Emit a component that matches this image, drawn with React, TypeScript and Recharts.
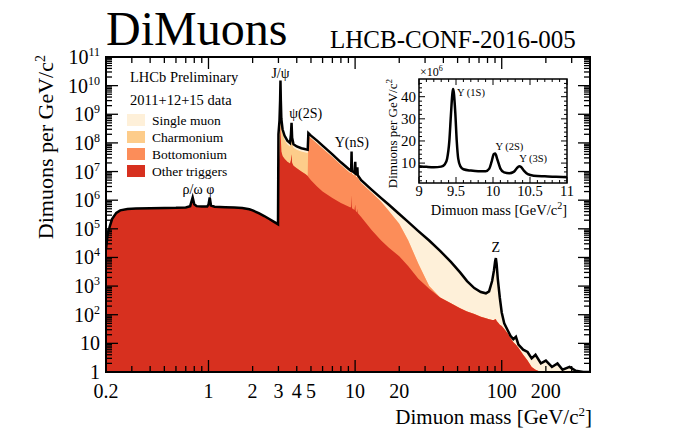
import React from 'react';
import { ComposedChart, LineChart, Area, Line, XAxis, YAxis, ReferenceDot } from 'recharts';

const FONT = '"Liberation Serif", "Times New Roman", "DejaVu Serif", serif';
const COLORS = { single: '#fef0d9', charm: '#fdcc8a', bottom: '#fc8d59', other: '#d7301f' };

// ---------- main spectrum (GeV/c^2, dimuons per GeV/c^2) ----------
const mass = [
  0.2, 0.205, 0.212, 0.22, 0.235, 0.25, 0.28, 0.32, 0.4, 0.5, 0.6, 0.7, 0.75, 0.78, 0.8, 0.83, 0.9, 0.98, 1.0, 1.02, 1.04, 1.1, 1.3, 1.5, 1.7, 1.9, 2.0, 2.2, 2.4, 2.6, 2.8, 2.98,
  3.0, 3.05, 3.08, 3.097, 3.115, 3.14, 3.2, 3.3, 3.45, 3.6, 3.65, 3.686, 3.72, 3.8, 4.0, 4.3, 4.6, 4.75,
  4.8, 5, 5.5, 6, 7, 8, 9, 9.3, 9.4, 9.46, 9.52, 9.9, 10.02, 10.1, 10.3, 10.36, 10.42, 11, 13, 15, 17, 20, 23, 27, 32, 38,
  45, 52, 58, 65, 72, 78, 82, 86, 88.5, 90.2, 91.2, 92.3, 94, 97, 100, 104, 110, 115, 120, 125, 130, 140, 150, 160, 170, 185, 200, 220, 240, 260, 290, 320, 360, 400,
];

// total (upper black curve = top of "Single muon")
const totalYield = [
  2e4, 6e4, 1.2e5, 2.2e5, 3.6e5, 4.4e5, 4.9e5, 5.1e5, 5.2e5, 5.3e5, 5.4e5, 5.6e5, 6.2e5, 1.25e6, 7.2e5, 6.2e5, 6.0e5, 6.0e5, 7e5, 1.25e6, 6.5e5, 5.9e5, 5.7e5, 5.6e5, 5.3e5, 4.8e5, 4.4e5, 3.5e5, 2.8e5, 2.2e5, 1.75e5, 1.45e5,
  2e8, 6e8, 3e9, 1.5e10, 3e9, 7e8, 3e8, 1.8e8, 1.2e8, 1.0e8, 2e8, 5e8, 1.5e8, 9e7, 7.5e7, 6.5e7, 6e7, 5.8e7,
  2.2e8, 1.8e8, 1.2e8, 8e7, 4e7, 2.1e7, 1.25e7, 1.1e7, 1.2e7, 5e7, 1.05e7, 9e6, 2.2e7, 8.4e6, 7.9e6, 1.4e7, 7.5e6, 5e6, 2.3e6, 1.2e6, 6.9e5, 3.3e5, 1.74e5, 8.3e4, 3.9e4, 1.7e4,
  7000, 3000, 1500, 850, 620, 560, 650, 1500, 3500, 7500, 9500, 6000, 1800, 400, 120, 50, 28, 18, 14, 17, 9, 6, 5, 3, 4, 2, 2.5, 1.5, 2, 1.2, 1.5, 1.1, 1, 1,
];

// upper edge of "Charmonium" (null: layer empty here)
const charmoniumTop = [
  null, null, null, null, null, null, null, null, null, null, null, null, null, null, null, null, null, null, null, null, null, null, null, null, null, null, null, null, null, null, null, null,
  1e8, 4e8, 2e9, 8e9, 2e9, 5e8, 2.2e8, 1.3e8, 9e7, 7.5e7, 1.5e8, 3.8e8, 1.1e8, 6.8e7, 5.8e7, 5e7, 4.6e7, 4.4e7,
  null, null, null, null, null, null, null, null, null, null, null, null, null, null, null, null, null, null, null, null, null, null, null, null, null, null,
  null, null, null, null, null, null, null, null, null, null, null, null, null, null, null, null, null, null, null, null, null, null, null, null, null, null, null, null, null, null, null, null, null, null,
];

// upper edge of "Bottomonium" (null: layer empty here)
const bottomoniumTop = [
  null, null, null, null, null, null, null, null, null, null, null, null, null, null, null, null, null, null, null, null, null, null, null, null, null, null, null, null, null, null, null, null,
  null, null, null, null, null, null, null, null, null, null, null, null, null, null, null, null, null, null,
  1.75e8, 1.45e8, 9.5e7, 6.4e7, 3.2e7, 1.7e7, 1e7, 8.8e6, 9.6e6, 4e7, 8.4e6, 7.2e6, 1.75e7, 6.7e6, 6.3e6, 1.1e7, 6e6, 4e6, 1.8e6, 9e5, 4.2e5, 1.5e5, 4e4, 6e3, 1000, null,
  null, null, null, null, null, null, null, null, null, null, null, null, null, null, null, null, null, null, null, null, null, null, null, null, null, null, null, null, null, null, null, null, null, null,
];

// upper edge of "Other triggers" (null: equals the total here)
const otherTriggers = [
  null, null, null, null, null, null, null, null, null, null, null, null, null, null, null, null, null, null, null, null, null, null, null, null, null, null, null, null, null, null, null, null,
  1.2e7, 4e7, 1.5e8, 4e8, 1.5e8, 5e7, 3.5e7, 2.8e7, 2.2e7, 1.9e7, 2.5e7, 4e7, 2e7, 1.6e7, 1.3e7, 1e7, 8e6, 7e6,
  6.5e6, 5e6, 3e6, 2e6, 1.2e6, 8e5, 6e5, 5.5e5, 6e5, 1.5e6, 5.2e5, 4.5e5, 7e5, 4.2e5, 3.8e5, 5e5, 3.6e5, 2.6e5, 9e4, 4e4, 2.2e4, 1.1e4, 5e3, 1.8e3, 800, 400,
  250, 170, 130, 105, 85, 75, 70, 65, 65, 70, 70, 60, 55, 45, 40, 32, 22, 15, 11, 9, 7, 4, 2.5, 1.5, 1.2, 1, 1, 1, 1, 1, 1, 1, 1, 1,
];

const legendLabels = ['Single muon', 'Charmonium', 'Bottomonium', 'Other triggers'];

// resonance annotations
const peakLabels = ['ρ/ω', 'φ', 'J/ψ', 'ψ(2S)', 'Υ(nS)', 'Z'];
const peakMass = [0.78, 1.03, 3.097, 4.6, 9.5, 91];
const peakLabelY = [2.5e6, 2.5e6, 2.8e10, 1.1e9, 1.1e8, 2.4e4];

// axes
const xLabelValues = [0.2, 1, 2, 3, 4, 5, 10, 20, 100, 200];
const xMajorValues = [1, 10, 100];
const xMinorValues = [0.3, 0.4, 0.5, 0.6, 0.7, 0.8, 0.9, 6, 7, 8, 9, 30, 40, 50, 60, 70, 80, 90, 300, 400];
const xTicks = [...xLabelValues, ...xMinorValues].sort((a, b) => a - b);
const yExponents = [0, 1, 2, 3, 4, 5, 6, 7, 8, 9, 10, 11];
const yMinorMultipliers = [2, 3, 4, 5, 6, 7, 8, 9];
const yTicks: number[] = [];
yExponents.forEach((e) => {
  yTicks.push(Math.pow(10, e));
  if (e < 11) yMinorMultipliers.forEach((k) => yTicks.push(k * Math.pow(10, e)));
});

// ---------- inset: Upsilon region (x10^6 dimuons per GeV/c^2) ----------
const insetMass = [9.0, 9.1, 9.2, 9.3, 9.35, 9.38, 9.41, 9.43, 9.45, 9.46, 9.47, 9.49, 9.51, 9.53, 9.56, 9.6, 9.7, 9.8, 9.9, 9.95, 9.98, 10.01, 10.03, 10.06, 10.1, 10.15, 10.22, 10.28, 10.32, 10.355, 10.38, 10.42, 10.47, 10.55, 10.7, 10.85, 11.0];
const insetYield = [8.6, 8.3, 8.1, 8.4, 9.5, 12, 20, 31, 41, 43.5, 42, 33, 20, 12, 8.5, 7.2, 6.6, 6.3, 6.3, 7.5, 10.5, 14, 14.3, 11.5, 7.5, 5.8, 5.4, 6, 7.6, 8.6, 8.2, 6.5, 5.0, 4.3, 4.0, 3.8, 3.6];
const insetLabels = ['Υ (1S)', 'Υ (2S)', 'Υ (3S)'];
const insetLabelMass = [9.5, 10.02, 10.34];
const insetLabelY = [42, 17.8, 12.3];
const insetXLabels = [9, 9.5, 10, 10.5, 11];
const insetXMinor = [9.1, 9.2, 9.3, 9.4, 9.6, 9.7, 9.8, 9.9, 10.1, 10.2, 10.3, 10.4, 10.6, 10.7, 10.8, 10.9];
const insetXTicks = [...insetXLabels, ...insetXMinor].sort((a, b) => a - b);
const insetYLabels = [10, 20, 30, 40];
const insetYMinor = [2, 4, 6, 8, 12, 14, 16, 18, 22, 24, 26, 28, 32, 34, 36, 38, 42, 44, 46];
const insetYTicks = [...insetYLabels, ...insetYMinor].sort((a, b) => a - b);

// layout
const W = 678, H = 430;
const P = { left: 106, top: 57, right: 590, bottom: 372 };
const PW = P.right - P.left, PH = P.bottom - P.top;
const IN = { left: 419, top: 79, right: 567, bottom: 183 };
const INW = IN.right - IN.left, INH = IN.bottom - IN.top;

const rows = mass.map((m, i) => {
  const red = otherTriggers[i] ?? totalYield[i];
  const bott = bottomoniumTop[i] ?? red;
  const charm = charmoniumTop[i] ?? bott;
  return { m, total: totalYield[i], charm, bott, red };
});
const insetRows = insetMass.map((m, i) => ({ m, v: insetYield[i] }));

const XTick = (p: any) => {
  const { x, y, payload } = p;
  const v = payload.value;
  const len = xMajorValues.includes(v) ? 12 : 6;
  const lab = xLabelValues.includes(v);
  return (
    <g>
      <line x1={x} x2={x} y1={y} y2={y - len} stroke="#000" strokeWidth={1.3} />
      <line x1={x} x2={x} y1={y - PH} y2={y - PH + len} stroke="#000" strokeWidth={1.3} />
      {lab && (
        <text x={x} y={y + 26} textAnchor="middle" fontFamily={FONT} fontSize={20} fill="#000">
          {String(v)}
        </text>
      )}
    </g>
  );
};

const YTick = (p: any) => {
  const { x, y, payload } = p;
  const v = payload.value;
  const e = Math.round(Math.log10(v));
  const major = Math.abs(Math.pow(10, e) - v) < 1e-6 * v;
  const len = major ? 12 : 6;
  return (
    <g>
      <line x1={x} x2={x + len} y1={y} y2={y} stroke="#000" strokeWidth={1.3} />
      <line x1={x + PW} x2={x + PW - len} y1={y} y2={y} stroke="#000" strokeWidth={1.3} />
      {major && (
        <text x={x - 6} y={y + 7} textAnchor="end" fontFamily={FONT} fontSize={20} fill="#000">
          {e === 0 ? '1' : '10'}
          {e >= 2 && (
            <tspan dy={-8} fontSize={12}>
              {String(e)}
            </tspan>
          )}
        </text>
      )}
    </g>
  );
};

const InsetXTick = (p: any) => {
  const { x, y, payload } = p;
  const v = payload.value;
  const lab = insetXLabels.includes(v);
  const len = lab ? 6 : 3;
  return (
    <g>
      <line x1={x} x2={x} y1={y} y2={y - len} stroke="#000" strokeWidth={1} />
      <line x1={x} x2={x} y1={y - INH} y2={y - INH + len} stroke="#000" strokeWidth={1} />
      {lab && (
        <text x={x} y={y + 13} textAnchor="middle" fontFamily={FONT} fontSize={14.5} fill="#000">
          {String(v)}
        </text>
      )}
    </g>
  );
};

const InsetYTick = (p: any) => {
  const { x, y, payload } = p;
  const v = payload.value;
  const lab = insetYLabels.includes(v);
  const len = lab ? 6 : 3;
  return (
    <g>
      <line x1={x} x2={x + len} y1={y} y2={y} stroke="#000" strokeWidth={1} />
      <line x1={x + INW} x2={x + INW - len} y1={y} y2={y} stroke="#000" strokeWidth={1} />
      {lab && (
        <text x={x - 3} y={y + 5} textAnchor="end" fontFamily={FONT} fontSize={15} fill="#000">
          {String(v)}
        </text>
      )}
    </g>
  );
};

const legendColors = [COLORS.single, COLORS.charm, COLORS.bottom, COLORS.other];

export default function App() {
  return (
    <div style={{ position: 'absolute', left: 0, top: 0, width: W, height: H, background: '#fff', overflow: 'hidden' }}>
      <div style={{ position: 'absolute', left: 0, top: 0 }}>
        <ComposedChart width={W} height={H} data={rows} margin={{ top: P.top, right: W - P.right, bottom: 0, left: 0 }}>
          <XAxis
            dataKey="m"
            type="number"
            scale="log"
            domain={[0.2, 400]}
            allowDataOverflow
            ticks={xTicks}
            interval={0}
            height={H - P.bottom}
            tickSize={0}
            tickMargin={0}
            axisLine={false}
            tickLine={false}
            tick={(p: any) => <XTick {...p} />}
          />
          <YAxis
            type="number"
            scale="log"
            domain={[1, 1e11]}
            allowDataOverflow
            ticks={yTicks}
            interval={0}
            width={P.left}
            tickSize={0}
            tickMargin={0}
            axisLine={false}
            tickLine={false}
            tick={(p: any) => <YTick {...p} />}
          />
          <Area dataKey="total" type="linear" baseValue={1} fill={COLORS.single} fillOpacity={1} stroke="none" isAnimationActive={false} />
          <Area dataKey="charm" type="linear" baseValue={1} fill={COLORS.charm} fillOpacity={1} stroke="none" isAnimationActive={false} />
          <Area dataKey="bott" type="linear" baseValue={1} fill={COLORS.bottom} fillOpacity={1} stroke="none" isAnimationActive={false} />
          <Area dataKey="red" type="linear" baseValue={1} fill={COLORS.other} fillOpacity={1} stroke="none" isAnimationActive={false} />
          <Line dataKey="total" type="linear" stroke="#000" strokeWidth={2.5} dot={false} isAnimationActive={false} />
          {peakLabels.map((t, i) => (
            <ReferenceDot
              key={t}
              x={peakMass[i]}
              y={peakLabelY[i]}
              r={1}
              fill="none"
              stroke="none"
              isFront
              label={{ value: t, position: 'center', fontSize: 14, fontFamily: FONT, fill: '#000' }}
            />
          ))}
        </ComposedChart>
      </div>

      <div style={{ position: 'absolute', left: 360, top: 60 }}>
        <LineChart width={230} height={170} data={insetRows} margin={{ top: IN.top - 60, right: 590 - IN.right, bottom: 0, left: 0 }}>
          <XAxis
            dataKey="m"
            type="number"
            domain={[9, 11]}
            allowDataOverflow
            ticks={insetXTicks}
            interval={0}
            height={170 - (IN.bottom - 60)}
            tickSize={0}
            tickMargin={0}
            axisLine={false}
            tickLine={false}
            tick={(p: any) => <InsetXTick {...p} />}
          />
          <YAxis
            type="number"
            domain={[1, 48]}
            allowDataOverflow
            ticks={insetYTicks}
            interval={0}
            width={IN.left - 360}
            tickSize={0}
            tickMargin={0}
            axisLine={false}
            tickLine={false}
            tick={(p: any) => <InsetYTick {...p} />}
          />
          <Line dataKey="v" type="monotone" stroke="#000" strokeWidth={2.5} dot={false} isAnimationActive={false} />
          {insetLabels.map((t, i) => (
            <ReferenceDot
              key={t}
              x={insetLabelMass[i]}
              y={insetLabelY[i]}
              r={1}
              fill="none"
              stroke="none"
              isFront
              label={{ value: t, position: 'right', offset: 0, fontSize: 10.5, fontFamily: FONT, fill: '#000' }}
            />
          ))}
        </LineChart>
      </div>

      <svg width={W} height={H} style={{ position: 'absolute', left: 0, top: 0, pointerEvents: 'none' }}>
        <rect x={P.left} y={P.top} width={PW} height={PH} fill="none" stroke="#000" strokeWidth={2} />
        <rect x={IN.left} y={IN.top} width={INW} height={INH} fill="none" stroke="#000" strokeWidth={1.5} />

        <text x={106} y={45} fontFamily={FONT} fontSize={48} fill="#000">DiMuons</text>
        <text x={330} y={48} fontFamily={FONT} fontSize={25} fill="#000">LHCB-CONF-2016-005</text>

        <text transform={`translate(53, ${P.top - 2}) rotate(-90)`} textAnchor="end" fontFamily={FONT} fontSize={22} fill="#000">
          Dimuons per GeV/c<tspan dy={-8} fontSize={14}>2</tspan>
        </text>
        <text x={592} y={424} textAnchor="end" fontFamily={FONT} fontSize={21} fill="#000">
          Dimuon mass [GeV/c<tspan dy={-8} fontSize={13}>2</tspan><tspan dy={8}>]</tspan>
        </text>

        <text x={130} y={82} fontFamily={FONT} fontSize={14.5} fill="#000">LHCb Preliminary</text>
        <text x={130} y={105} fontFamily={FONT} fontSize={14.5} fill="#000">2011+12+15 data</text>
        {legendLabels.map((t, i) => (
          <g key={t}>
            <rect x={127} y={114 + i * 17} width={18} height={12} fill={legendColors[i]} />
            <text x={152} y={125 + i * 17} fontFamily={FONT} fontSize={13.5} fill="#000">{t}</text>
          </g>
        ))}

        <text x={420} y={76} fontFamily={FONT} fontSize={12} fill="#000">
          ×10<tspan dy={-5} fontSize={8}>6</tspan>
        </text>
        <text transform={`translate(397, ${IN.top}) rotate(-90)`} textAnchor="end" fontFamily={FONT} fontSize={13} fill="#000">
          Dimuons per GeV/c<tspan dy={-5} fontSize={9}>2</tspan>
        </text>
        <text x={IN.right} y={215} textAnchor="end" fontFamily={FONT} fontSize={14.5} fill="#000">
          Dimuon mass [GeV/c<tspan dy={-6} fontSize={10}>2</tspan><tspan dy={6}>]</tspan>
        </text>
      </svg>
    </div>
  );
}
